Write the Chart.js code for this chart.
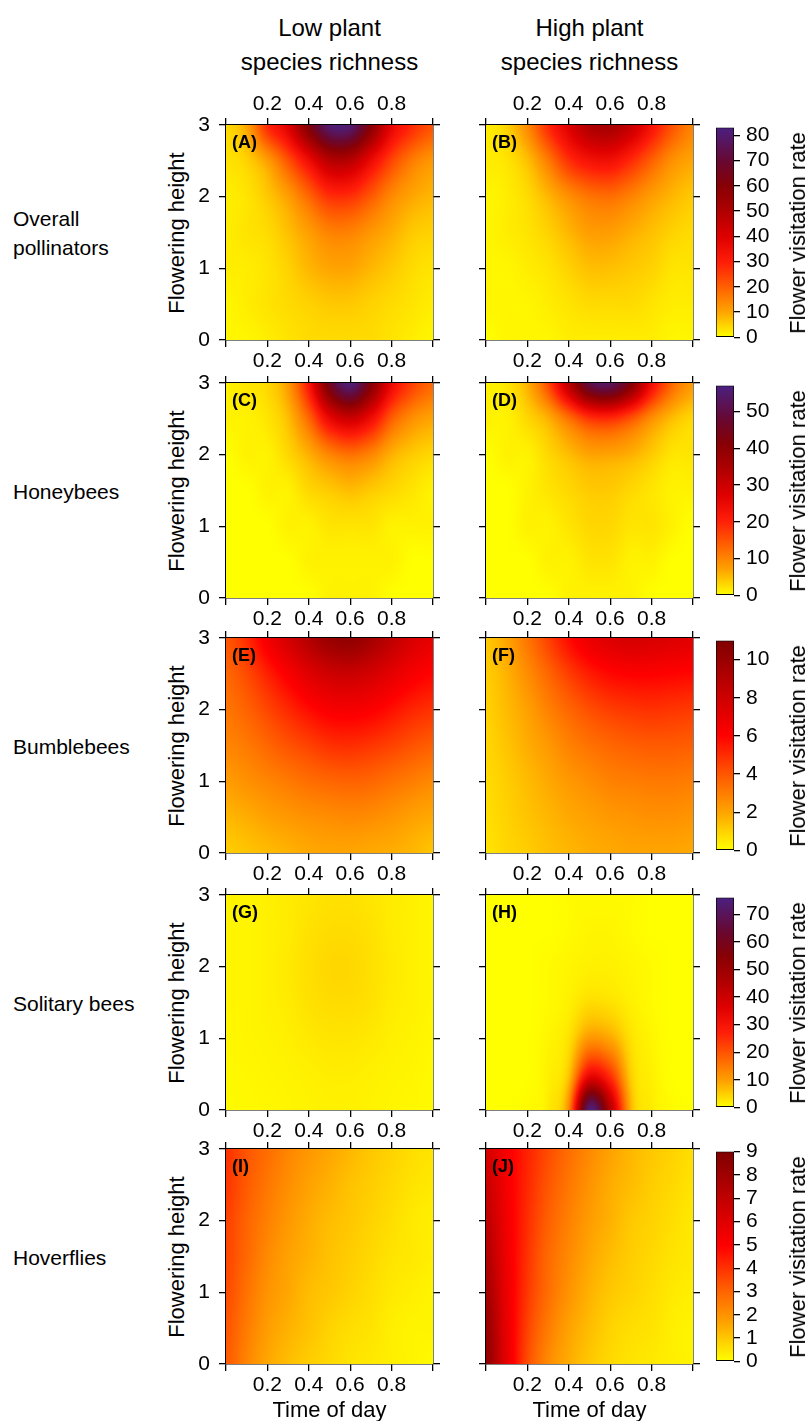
<!DOCTYPE html>
<html>
<head>
<meta charset="utf-8">
<script src="https://cdn.jsdelivr.net/npm/chart.js@4.4.1/dist/chart.umd.min.js"></script>
<style>
  html, body { margin: 0; padding: 0; background: #fff; }
  body { width: 809px; height: 1421px; position: relative; overflow: hidden;
         font-family: "Liberation Sans", Arial, sans-serif; color: #000; }
  canvas { position: absolute; }
  .t { position: absolute; white-space: nowrap; line-height: 1; }
</style>
</head>
<body>
<script>
// ---- data ----
const timeOfDay = [0, 0.1, 0.2, 0.3, 0.4, 0.5, 0.6, 0.7, 0.8, 0.9, 1.0];
const flowerHeight = [3, 2.5, 2, 1.5, 1, 0.5, 0];   // row order of the grids below
const timeTicks = [0.2, 0.4, 0.6, 0.8];
const heightTicks = [0, 1, 2, 3];

const groups = ['Overall\npollinators', 'Honeybees', 'Bumblebees', 'Solitary bees', 'Hoverflies'];
const columns = ['Low plant\nspecies richness', 'High plant\nspecies richness'];
const panelLetters = ['A', 'B', 'C', 'D', 'E', 'F', 'G', 'H', 'I', 'J'];

// colour bar range and tick labels per row
const rateMax = [83, 57, 11, 76, 9];
const rateTicks = [
  [0, 10, 20, 30, 40, 50, 60, 70, 80],
  [0, 10, 20, 30, 40, 50],
  [0, 2, 4, 6, 8, 10],
  [0, 10, 20, 30, 40, 50, 60, 70],
  [0, 1, 2, 3, 4, 5, 6, 7, 8, 9]
];

// flower visitation rate, rows = flowering height 3..0, cols = time 0..1
const overallLow = [
  [4, 10, 28, 40, 62, 80, 80, 60, 38, 28, 22],
  [3, 5, 11, 22, 35, 48, 48, 36, 24, 16, 12],
  [2, 3, 6, 11, 19, 27, 27, 21, 14, 10, 8],
  [2, 3, 4, 7, 11, 15, 15, 12, 9, 6, 5],
  [2, 2, 3, 5, 8, 10, 10, 8, 6, 4, 3],
  [1, 2, 3, 4, 5, 6, 6, 5, 4, 3, 2],
  [1, 1, 2, 3, 4, 4, 4, 4, 3, 2, 1]
];
const overallHigh = [
  [2, 5, 14, 28, 40, 50, 52, 45, 33, 22, 15],
  [2, 3, 7, 16, 27, 33, 34, 28, 20, 13, 10],
  [1, 2, 4, 8, 13, 17, 18, 15, 11, 8, 6],
  [1, 2, 3, 5, 8, 11, 11, 9, 7, 5, 4],
  [1, 1, 2, 3, 5, 7, 7, 6, 5, 3, 3],
  [1, 1, 1, 2, 3, 4, 4, 4, 3, 2, 2],
  [0, 1, 1, 1, 2, 2, 2, 2, 2, 1, 1]
];
const honeyLow = [
  [1, 2, 3, 8, 22, 45, 56, 42, 25, 17, 13],
  [1, 1, 2, 5, 13, 25, 30, 24, 14, 9, 7],
  [0, 1, 1, 3, 6, 10, 12, 10, 6, 4, 3],
  [0, 0, 1, 1, 3, 4, 5, 4, 3, 2, 1],
  [0, 0, 0, 1, 1, 2, 2, 2, 1, 1, 1],
  [0, 0, 0, 0, 1, 1, 1, 1, 1, 0, 0],
  [0, 0, 0, 0, 0, 1, 1, 1, 0, 0, 0]
];
const honeyHigh = [
  [1, 2, 6, 16, 33, 50, 53, 42, 24, 13, 8],
  [1, 1, 3, 6, 12, 18, 19, 15, 9, 5, 3],
  [0, 1, 1, 3, 5, 7, 7, 6, 4, 2, 2],
  [0, 0, 1, 2, 3, 4, 4, 3, 2, 1, 1],
  [0, 0, 1, 1, 2, 3, 3, 2, 2, 1, 0],
  [0, 0, 0, 1, 1, 2, 2, 1, 1, 0, 0],
  [0, 0, 0, 0, 1, 1, 1, 1, 0, 0, 0]
];
const bumbleLow = [
  [4, 5, 6.5, 7.8, 9, 10, 10.3, 9.6, 8.6, 7.6, 7],
  [3.6, 4.3, 5.3, 6.3, 7.3, 8, 8.2, 7.8, 7.1, 6.4, 6],
  [3.2, 3.7, 4.4, 5.1, 5.8, 6.3, 6.4, 6.2, 5.7, 5.2, 4.9],
  [2.8, 3.1, 3.6, 4.1, 4.5, 4.9, 5, 4.8, 4.5, 4.1, 3.8],
  [2.2, 2.5, 2.8, 3.1, 3.4, 3.6, 3.7, 3.6, 3.3, 3.0, 2.7],
  [1.6, 1.8, 2.1, 2.3, 2.5, 2.6, 2.7, 2.6, 2.4, 2.1, 1.9],
  [1.1, 1.3, 1.5, 1.7, 1.9, 2.0, 2.0, 1.9, 1.8, 1.6, 1.3]
];
const bumbleHigh = [
  [1.2, 2, 3.2, 4.5, 5.8, 6.8, 7.4, 7.7, 7.6, 7.4, 7.2],
  [1.1, 1.7, 2.6, 3.6, 4.6, 5.4, 5.9, 6.1, 6.1, 6, 5.9],
  [1, 1.5, 2.1, 2.9, 3.6, 4.2, 4.6, 4.8, 4.9, 4.8, 4.7],
  [0.9, 1.3, 1.8, 2.3, 2.9, 3.3, 3.6, 3.8, 3.9, 3.9, 3.8],
  [0.8, 1.1, 1.5, 1.9, 2.3, 2.6, 2.9, 3, 3.1, 3.1, 3],
  [0.7, 1, 1.3, 1.6, 1.9, 2.1, 2.3, 2.4, 2.5, 2.5, 2.4],
  [0.6, 0.9, 1.1, 1.4, 1.6, 1.8, 1.9, 2, 2, 2, 1.9]
];
const solitaryLow = [
  [1, 1, 1.5, 2, 2.5, 3, 3, 2.5, 2, 1.5, 1],
  [1, 1, 1.5, 2, 3, 3.5, 3.5, 3, 2, 1.5, 1],
  [1, 1, 1.5, 2.2, 3.2, 4, 4, 3.2, 2.2, 1.5, 1],
  [1, 1, 1.5, 2, 3, 3.5, 3.5, 3, 2, 1.5, 1],
  [0.8, 1, 1.2, 1.6, 2.2, 2.6, 2.6, 2.2, 1.6, 1.2, 0.8],
  [0.6, 0.8, 1, 1.2, 1.5, 1.8, 1.8, 1.5, 1.2, 1, 0.6],
  [0.5, 0.6, 0.8, 1, 1.2, 1.4, 1.4, 1.2, 1, 0.8, 0.5]
];
const solitaryHigh = [
  [0, 0, 0, 0, 0.5, 0.5, 0.5, 0.5, 0, 0, 0],
  [0, 0, 0, 0, 0.5, 1, 1, 0.5, 0, 0, 0],
  [0, 0, 0, 0.5, 1, 1.5, 1.5, 1, 0.5, 0, 0],
  [0, 0, 0, 0.5, 1.5, 3.5, 3, 1.5, 0.5, 0, 0],
  [0, 0, 0, 1, 3, 11, 9, 3, 1, 0, 0],
  [0, 0, 0, 1.5, 6, 32, 24, 5, 1.5, 0, 0],
  [0, 0, 0.5, 2, 13, 74, 45, 8, 2, 0.5, 0]
];
const hoverLow = [
  [4.0, 3.3, 2.8, 2.3, 1.9, 1.6, 1.3, 1.0, 0.8, 0.6, 0.5],
  [3.9, 3.2, 2.6, 2.1, 1.7, 1.4, 1.1, 0.9, 0.7, 0.5, 0.4],
  [3.7, 3.0, 2.4, 1.9, 1.5, 1.2, 1.0, 0.8, 0.6, 0.4, 0.3],
  [3.6, 2.9, 2.2, 1.7, 1.4, 1.1, 0.9, 0.7, 0.5, 0.4, 0.3],
  [3.5, 2.7, 2.0, 1.6, 1.2, 1.0, 0.8, 0.6, 0.4, 0.3, 0.2],
  [3.3, 2.5, 1.8, 1.4, 1.1, 0.8, 0.6, 0.5, 0.3, 0.2, 0.2],
  [3.2, 2.3, 1.6, 1.2, 0.9, 0.7, 0.5, 0.4, 0.3, 0.2, 0.1]
];
const hoverHigh = [
  [6.3, 5.2, 4.3, 3.5, 2.8, 2.2, 1.7, 1.3, 1.0, 0.8, 0.6],
  [6.7, 5.3, 4.2, 3.3, 2.6, 2.0, 1.5, 1.2, 0.9, 0.7, 0.5],
  [7.1, 5.4, 4.1, 3.1, 2.4, 1.8, 1.4, 1.0, 0.8, 0.6, 0.4],
  [7.5, 5.5, 4.0, 2.9, 2.2, 1.6, 1.2, 0.9, 0.7, 0.5, 0.4],
  [7.9, 5.6, 3.9, 2.8, 2.0, 1.4, 1.0, 0.8, 0.6, 0.4, 0.3],
  [8.3, 5.7, 3.7, 2.5, 1.7, 1.2, 0.8, 0.6, 0.5, 0.3, 0.2],
  [8.5, 5.8, 3.5, 2.2, 1.5, 1.0, 0.7, 0.5, 0.4, 0.3, 0.2]
];
const grids = [overallLow, overallHigh, honeyLow, honeyHigh, bumbleLow,
               bumbleHigh, solitaryLow, solitaryHigh, hoverLow, hoverHigh];

// ---- colour ramps (fraction of colour-bar range -> rgb) ----
const rampPurple = [
  [0, 255, 255, 0], [0.12, 255, 165, 0], [0.24, 255, 96, 0], [0.36, 255, 28, 8],
  [0.48, 222, 0, 0], [0.6, 176, 0, 0], [0.72, 136, 0, 4], [0.84, 104, 8, 50], [1, 74, 32, 128]
];
const rampRed = [
  [0, 255, 255, 0], [0.18, 255, 165, 0], [0.36, 255, 88, 0], [0.55, 255, 0, 0],
  [0.73, 206, 0, 0], [0.9, 156, 0, 0], [1, 128, 0, 0]
];
const rowRamp = [rampPurple, rampPurple, rampRed, rampPurple, rampRed];

// ---- layout ----
const AREA_W = 207, AREA_H = 215;
const colLeft = [226, 486];
const rowTop = [125, 383, 638, 895, 1149];
const PAD = { l: 50, r: 12, t: 36, b: 36 };
const BAR_X = 716, BAR_W = 18, BAR_AXIS = 60, BAR_PAD = 16;
const FONT = '"Liberation Sans", Arial, sans-serif';

Chart.defaults.font.family = FONT;
Chart.defaults.font.size = 21;
Chart.defaults.color = '#000';

function rampColor(ramp, t) {
  t = Math.max(0, Math.min(1, t));
  for (let i = 1; i < ramp.length; i++) {
    if (t <= ramp[i][0]) {
      const a = ramp[i - 1], b = ramp[i];
      const f = (t - a[0]) / (b[0] - a[0]);
      return [a[1] + (b[1] - a[1]) * f, a[2] + (b[2] - a[2]) * f, a[3] + (b[3] - a[3]) * f];
    }
  }
  const l = ramp[ramp.length - 1];
  return [l[1], l[2], l[3]];
}

// Catmull-Rom through the read grid values
function cr(p0, p1, p2, p3, t) {
  return p1 + 0.5 * t * (p2 - p0 + t * (2 * p0 - 5 * p1 + 4 * p2 - p3 + t * (3 * (p1 - p2) + p3 - p0)));
}
function sampleGrid(V, fx, fy) {
  const nx = V[0].length, ny = V.length;
  const ix = Math.max(0, Math.min(Math.floor(fx), nx - 2));
  const iy = Math.max(0, Math.min(Math.floor(fy), ny - 2));
  const tx = fx - ix, ty = fy - iy;
  const cx = k => Math.max(0, Math.min(nx - 1, k));
  const cy = k => Math.max(0, Math.min(ny - 1, k));
  const r = [];
  for (let m = -1; m <= 2; m++) {
    const R = V[cy(iy + m)];
    r.push(cr(R[cx(ix - 1)], R[cx(ix)], R[cx(ix + 1)], R[cx(ix + 2)], tx));
  }
  return cr(r[0], r[1], r[2], r[3], ty);
}

// paints the field of the dataset's grid points into the chart area
const heatPlugin = {
  id: 'heat',
  beforeDatasetsDraw(chart) {
    const ds = chart.data.datasets[0];
    const xs = chart.scales.x, ys = chart.scales.y;
    const left = Math.round(chart.chartArea.left), top = Math.round(chart.chartArea.top);
    const w = Math.round(chart.chartArea.right) - left, h = Math.round(chart.chartArea.bottom) - top;
    const tx = [...new Set(ds.data.map(p => p.x))].sort((a, b) => a - b);
    const ty = [...new Set(ds.data.map(p => p.y))].sort((a, b) => a - b);
    const V = ty.map(() => new Array(tx.length).fill(0));
    ds.data.forEach(p => { V[ty.indexOf(p.y)][tx.indexOf(p.x)] = p.v; });
    const img = chart.ctx.createImageData(w, h);
    for (let j = 0; j < h; j++) {
      const fy = (ys.getValueForPixel(top + j + 0.5) - ty[0]) / (ty[1] - ty[0]);
      for (let i = 0; i < w; i++) {
        const fx = (xs.getValueForPixel(left + i + 0.5) - tx[0]) / (tx[1] - tx[0]);
        const c = rampColor(ds.ramp, sampleGrid(V, fx, fy) / ds.vmax);
        const k = (j * w + i) * 4;
        img.data[k] = c[0]; img.data[k + 1] = c[1]; img.data[k + 2] = c[2]; img.data[k + 3] = 255;
      }
    }
    chart.ctx.putImageData(img, left, top);
  }
};

function addCanvas(x, y, w, h) {
  const c = document.createElement('canvas');
  c.width = w; c.height = h;
  c.style.left = x + 'px'; c.style.top = y + 'px';
  c.style.width = w + 'px'; c.style.height = h + 'px';
  document.body.appendChild(c);
  return c;
}

function addText(str, x, y, size, opts = {}) {
  const d = document.createElement('div');
  d.className = 't';
  d.style.fontSize = size + 'px';
  d.style.left = x + 'px';
  d.style.top = y + 'px';
  if (opts.bold) d.style.fontWeight = 'bold';
  if (opts.lh) d.style.lineHeight = opts.lh + 'px';
  d.style.transform = opts.transform || 'translate(-50%, -50%)';
  d.innerHTML = str.replace(/\n/g, '<br>');
  document.body.appendChild(d);
}

function xAxis(pos, labels, size) {
  return {
    type: 'linear', axis: 'x', position: pos, min: 0, max: 1, z: 1,
    afterFit: s => { s.height = size; },
    ticks: {
      stepSize: 0.2, autoSkip: false, maxRotation: 0, minRotation: 0,
      display: labels, padding: pos === 'top' ? 1 : 2,
      callback: v => timeTicks.some(t => Math.abs(t - v) < 1e-6) ? v.toFixed(1) : ''
    },
    grid: { drawOnChartArea: false, drawTicks: true, tickLength: 7, color: '#000', lineWidth: 1.3 },
    border: { display: true, color: '#000', width: 1.5 }
  };
}
function yAxis(pos, labels, size) {
  return {
    type: 'linear', axis: 'y', position: pos, min: 0, max: 3, z: 1,
    afterFit: s => { s.width = size; },
    ticks: {
      stepSize: 1, display: labels, padding: 9,
      callback: v => heightTicks.includes(v) ? String(v) : ''
    },
    grid: { drawOnChartArea: false, drawTicks: true, tickLength: 7, color: '#000', lineWidth: 1.3 },
    border: { display: true, color: '#000', width: 1.5 }
  };
}

function makePanel(row, col) {
  const idx = row * 2 + col;
  const grid = grids[idx];
  const ax = colLeft[col], ay = rowTop[row];
  const canvas = addCanvas(ax - PAD.l, ay - PAD.t, PAD.l + AREA_W + PAD.r, PAD.t + AREA_H + PAD.b);
  const points = [];
  flowerHeight.forEach((h, i) => timeOfDay.forEach((t, j) => points.push({ x: t, y: h, v: grid[i][j] })));
  new Chart(canvas, {
    type: 'scatter',
    data: { datasets: [{ data: points, pointRadius: 0, pointHoverRadius: 0,
                         vmax: rateMax[row], ramp: rowRamp[row] }] },
    options: {
      responsive: false, animation: false, events: [], devicePixelRatio: 1,
      layout: { padding: 0 },
      plugins: { legend: { display: false }, tooltip: { enabled: false } },
      scales: {
        x: xAxis('bottom', true, PAD.b),
        x2: xAxis('top', row === 0, PAD.t),
        y: yAxis('left', col === 0, PAD.l),
        y2: yAxis('right', false, PAD.r)
      }
    },
    plugins: [heatPlugin]
  });
  addText('(' + panelLetters[idx] + ')', ax + 6, ay + 17, 18,
          { bold: true, transform: 'translate(0, -50%)' });
}

function makeColourBar(row) {
  const max = rateMax[row], ramp = rowRamp[row];
  const canvas = addCanvas(BAR_X, rowTop[row] - BAR_PAD, BAR_W + BAR_AXIS, AREA_H + 2 * BAR_PAD);
  new Chart(canvas, {
    type: 'bar',
    data: {
      labels: [''],
      datasets: [{
        data: [[0, max]],
        barPercentage: 1, categoryPercentage: 1,
        borderColor: '#000', borderWidth: 1, borderSkipped: false,
        backgroundColor: ctx => {
          const chart = ctx.chart;
          if (!chart.chartArea) return '#ff0';
          const y = chart.scales.y;
          const g = chart.ctx.createLinearGradient(0, y.getPixelForValue(0), 0, y.getPixelForValue(max));
          ramp.forEach(s => g.addColorStop(s[0], `rgb(${s[1]},${s[2]},${s[3]})`));
          return g;
        }
      }]
    },
    options: {
      responsive: false, animation: false, events: [], devicePixelRatio: 1,
      layout: { padding: { top: BAR_PAD, bottom: BAR_PAD, left: 0, right: 0 } },
      plugins: { legend: { display: false }, tooltip: { enabled: false } },
      scales: {
        x: { display: false },
        y: {
          position: 'right', min: 0, max: max,
          afterFit: s => { s.width = BAR_AXIS; },
          afterBuildTicks: s => { s.ticks = rateTicks[row].map(v => ({ value: v })); },
          ticks: { padding: 6, autoSkip: false },
          grid: { drawOnChartArea: false, tickLength: 6, color: '#000', lineWidth: 1.3 },
          border: { display: false }
        }
      }
    }
  });
  addText('Flower visitation rate', 798, rowTop[row] + AREA_H / 2, 22,
          { transform: 'translate(-50%, -50%) rotate(-90deg)' });
}

// ---- build figure ----
columns.forEach((c, i) => {
  const cx = colLeft[i] + AREA_W / 2;
  const lines = c.split('\n');
  addText(lines[0], cx, 28, 24);
  addText(lines[1], cx, 62, 24);
});

for (let r = 0; r < 5; r++) {
  const cy = rowTop[r] + AREA_H / 2;
  addText(groups[r], 13, cy, 21, { lh: 29, transform: 'translate(0, -50%)' });
  addText('Flowering height', 177, cy, 22, { transform: 'translate(-50%, -50%) rotate(-90deg)' });
  makePanel(r, 0);
  makePanel(r, 1);
  makeColourBar(r);
}

colLeft.forEach(x => addText('Time of day', x + AREA_W / 2, rowTop[4] + AREA_H + 46, 22));
</script>
</body>
</html>
